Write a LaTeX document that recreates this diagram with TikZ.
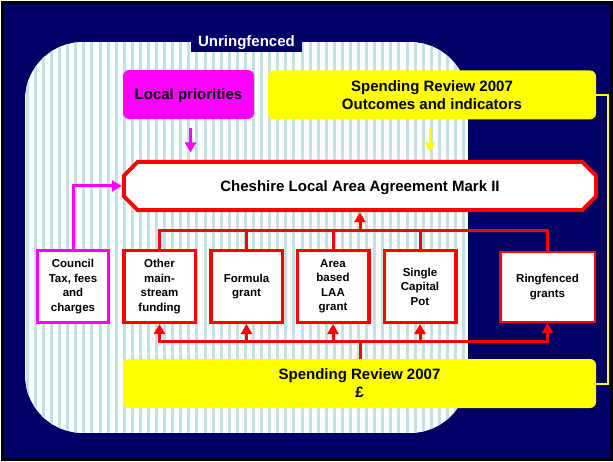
\documentclass[tikz,border=0pt]{standalone}
\usepackage{fontspec}
\setmainfont{Liberation Sans}
\usetikzlibrary{arrows.meta}
\definecolor{navy}{HTML}{000066}
\definecolor{stripec}{HTML}{C4E2E6}
\definecolor{myred}{HTML}{FF0000}
\definecolor{mymag}{HTML}{FF00FF}
\definecolor{myyel}{HTML}{FFFF00}
\tikzset{
  big/.style={font=\fontsize{15}{18}\selectfont\bfseries},
  small/.style={font=\fontsize{11.5}{14.5}\selectfont\bfseries, align=center, inner sep=0pt},
  redbox/.style={small, draw=myred, line width=3.5pt, fill=white, minimum width=71.5pt, minimum height=71.5pt},
  magbox/.style={small, draw=mymag, line width=3pt, fill=white, minimum width=71pt, minimum height=72pt},
  yelbox/.style={big, fill=myyel, rounded corners=6pt, align=center, inner sep=0pt},
  redcon/.style={draw=myred, line width=3pt},
  redarr/.style={redcon, -{Triangle[width=11pt,length=10pt]}},
  magarr/.style={draw=mymag, line width=3pt, -{Triangle[width=11pt,length=10pt]}},
  yelarr/.style={draw=myyel, line width=2.5pt, -{Triangle[width=10pt,length=10pt]}},
  yelcon/.style={draw=myyel, line width=2pt},
}
\begin{document}
\begin{tikzpicture}[x=1pt,y=-1pt]
\useasboundingbox (0,0) rectangle (613,462);
\fill[white] (0,0) rectangle (613,462);
\filldraw[fill=navy, draw=black, line width=3pt] (2.5,2.5) rectangle (611,459.5);
% striped region
\begin{scope}
  \clip[rounded corners=58pt] (25,42) rectangle (468,433);
  \fill[white] (25,42) rectangle (468,433);
  \foreach \i in {0,...,55} {
    \draw[stripec, line width=3pt] ({27.3+8.08*\i},42) -- ({27.3+8.08*\i},433);
  }
\end{scope}
% label
\node[fill=navy, text=white, big, minimum width=111pt, minimum height=19pt, inner sep=0pt] (unr) at (246.5,42.5) {Unringfenced};
% top boxes
\node[yelbox, fill=mymag, minimum width=131pt, minimum height=49pt, text depth=0pt] (lp) at (188.5,94.5) {Local priorities};
\node[yelbox, minimum width=328pt, minimum height=49pt] (sr) at (432,95) {Spending Review 2007\\Outcomes and indicators};
% Cheshire
\node[big, minimum width=476pt, minimum height=52pt, inner sep=0pt] (ches) at (360,186) {};
\filldraw[fill=white, draw=myred, line width=4pt]
  ([shift={(16,2)}]ches.north west) -- ([shift={(-16,2)}]ches.north east)
  -- ([shift={(-2,16)}]ches.north east) -- ([shift={(-2,-16)}]ches.south east)
  -- ([shift={(-16,-2)}]ches.south east) -- ([shift={(16,-2)}]ches.south west)
  -- ([shift={(2,-16)}]ches.south west) -- ([shift={(2,16)}]ches.north west) -- cycle;
\node[big, text depth=0pt] at (ches.center) {Cheshire Local Area Agreement Mark II};
% arrows into Cheshire from top
\coordinate (ma1) at (190.5,128);
\coordinate (ma2) at (190.5,152.5);
\draw[magarr] (ma1) -- (ma2);
\coordinate (ya1) at (430,128);
\coordinate (ya2) at (430,152.5);
\draw[yelarr] (ya1) -- (ya2);
% funding boxes
\node[magbox] (council) at (73,286.5) {Council\\Tax, fees\\and\\charges};
\node[redbox] (other) at (159.5,286.5) {Other\\main-\\stream\\funding};
\node[redbox] (formula) at (246.5,286.5) {Formula\\grant};
\node[redbox] (area) at (333,286.5) {Area\\based\\LAA\\grant};
\node[redbox] (single) at (420,286.5) {Single\\Capital\\Pot};
\node[small, draw=myred, line width=2.5pt, fill=white, minimum width=94.5pt, minimum height=69.5pt] (ring) at (547.5,287) {Ringfenced\\grants};
% bottom yellow
\node[yelbox, minimum width=473pt, minimum height=49pt] (bot) at (359.5,383.5) {Spending Review 2007\\£};
% top bus
\coordinate (bt) at (360,231);
\draw[redcon] (other.north) |- (bt) -| (ring.north);
\draw[redcon] (formula.north) -- (formula.north |- bt);
\draw[redcon] (area.north) -- (area.north |- bt);
\draw[redcon] (single.north) -- (single.north |- bt);
\draw[redarr] (bt) -- (bt |- ches.south);
% magenta from council
\draw[magarr] (council.north) |- (ches.west);
% bottom bus
\coordinate (bb) at (360,341);
\draw[redcon] (bot.north -| bb) -- (bb);
\draw[redarr] (bb) -| (other.south);
\draw[redarr] (bb) -| (ring.south);
\draw[redarr] (formula.south |- bb) -- (formula.south);
\draw[redarr] (area.south |- bb) -- (area.south);
\draw[redarr] (single.south |- bb) -- (single.south);
% yellow link
\coordinate (yr) at (608,95);
\draw[yelcon] (sr.east) -- (yr) |- (bot.east);
\end{tikzpicture}
\end{document}
